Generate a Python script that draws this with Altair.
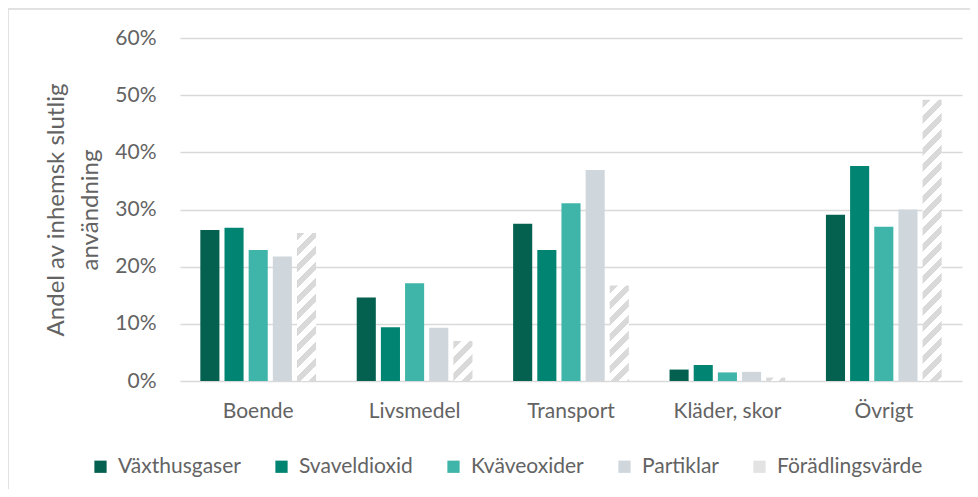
import altair as alt
import pandas as pd
import math

categories = ["Boende", "Livsmedel", "Transport", "Kläder, skor", "Övrigt"]
series = ["Växthusgaser", "Svaveldioxid", "Kväveoxider", "Partiklar", "Förädlingsvärde"]
vaxthusgaser = [26.4, 14.6, 27.5, 2.0, 29.1]
svaveldioxid = [26.8, 9.4, 22.9, 2.8, 37.6]
kvaveoxider = [22.9, 17.1, 31.1, 1.5, 27.0]
partiklar = [21.8, 9.3, 36.9, 1.6, 30.0]
foradlingsvarde = [25.9, 7.0, 16.7, 0.6, 49.2]
colors = ["#04614F", "#028473", "#3FB4A9", "#CFD7DD", "#E3E3E3"]
y_title = ["Andel av inhemsk slutlig", "användning"]

values = [vaxthusgaser, svaveldioxid, kvaveoxider, partiklar, foradlingsvarde]
rows = []
for s, vals in zip(series, values):
    for c, v in zip(categories, vals):
        rows.append({"cat": c, "series": s, "value": v / 100.0})
df = pd.DataFrame(rows)

W, H = 782, 343
YMAX = 0.6
FONT = "Lato"
TXT = "#636363"
HATCH = "#D9D9D9"

# bar geometry from the band scales (for the hatch gradient only)
pi_x, po_x, pi_off = 0.26, 0.13, 0.21
step = W / (len(categories) - pi_x + 2 * po_x)
band = step * (1 - pi_x)
bar_w = band / (len(series) - pi_off) * (1 - pi_off)

x_enc = alt.X("cat:N", sort=categories, title=None,
              scale=alt.Scale(domain=categories, paddingInner=pi_x, paddingOuter=po_x),
              axis=alt.Axis(labelAngle=0, domain=False, ticks=False, tickSize=0,
                            labelPadding=19, labelFontSize=21, labelColor=TXT,
                            labelFont=FONT, grid=False))
xoff_enc = alt.XOffset("series:N", sort=series,
                       scale=alt.Scale(domain=series, paddingInner=pi_off, paddingOuter=0))
y_enc = alt.Y("value:Q", title=y_title,
              scale=alt.Scale(domain=[0, YMAX], nice=False),
              axis=alt.Axis(values=[0, 0.1, 0.2, 0.3, 0.4, 0.5, 0.6], format=".0%",
                            domain=False, ticks=False, tickSize=0, labelPadding=24,
                            labelFontSize=21, labelColor=TXT, labelFont=FONT,
                            grid=True, gridColor="#D9D9D9", gridWidth=1.5,
                            titleFontSize=24, titleFontWeight="normal", titleColor=TXT,
                            titleFont=FONT, titlePadding=12, titleLineHeight=34))

main = alt.Chart(df).transform_filter(
    alt.datum.series != "Förädlingsvärde"
).mark_bar(strokeWidth=0).encode(
    x=x_enc, xOffset=xoff_enc, y=y_enc,
    color=alt.Color("series:N", sort=series,
                    scale=alt.Scale(domain=series, range=colors),
                    legend=alt.Legend(title=None, orient="none", legendX=-90, legendY=418,
                                      direction="horizontal", columns=5,
                                      symbolType="square", symbolSize=150,
                                      symbolStrokeWidth=0, labelFontSize=21,
                                      labelColor=TXT, labelFont=FONT, labelOffset=7,
                                      columnPadding=30, padding=0)),
)


def hatch(value):
    h = value / YMAX * H
    w = bar_w
    L = w + h
    P = 16.0
    duty = 0.5
    stops = []
    j = 0
    while j * P < L:
        s = j * P / L
        e = min(1.0, (j * P + P * duty) / L)
        stops.append(alt.GradientStop(offset=s, color="#FFFFFF"))
        stops.append(alt.GradientStop(offset=s, color=HATCH))
        stops.append(alt.GradientStop(offset=e, color=HATCH))
        stops.append(alt.GradientStop(offset=e, color="#FFFFFF"))
        j += 1
    stops.append(alt.GradientStop(offset=1, color="#FFFFFF"))
    k = (w + h) / (w * w + h * h)
    return alt.LinearGradient(gradient="linear", stops=stops,
                              x1=0, y1=0, x2=w * k, y2=h * k)


layers = [main]
for c, v in zip(categories, foradlingsvarde):
    layers.append(
        alt.Chart(df).transform_filter(
            (alt.datum.series == "Förädlingsvärde") & (alt.datum.cat == c)
        ).mark_bar(fill=hatch(v / 100.0), strokeWidth=0).encode(
            x=x_enc, xOffset=xoff_enc, y=y_enc
        )
    )

border = alt.Chart(pd.DataFrame({"a": [0]})).mark_rect(
    fill=None, stroke="#D9D9D9", strokeWidth=1.5
).encode(
    x=alt.value(-172), x2=alt.value(830), y=alt.value(-29), y2=alt.value(480)
)
layers.append(border)

chart = alt.layer(*layers).properties(
    width=W, height=H,
    autosize=alt.AutoSizeParams(type="none"),
    padding={"left": 172, "top": 30, "right": 8, "bottom": 108},
    background="white",
).configure_view(stroke=None).configure_axis(labelFont=FONT, titleFont=FONT)

chart.save("out.html", embed_options={"renderer": "svg", "actions": False})
